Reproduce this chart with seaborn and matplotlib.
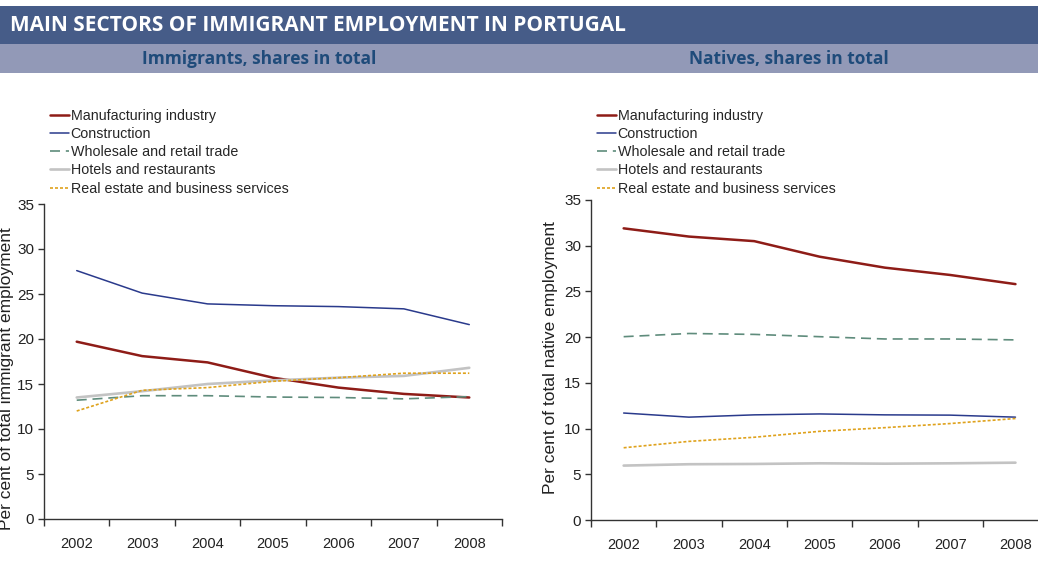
import matplotlib
matplotlib.use("Agg")
import matplotlib.pyplot as plt
from matplotlib.patches import Rectangle
from matplotlib.ticker import FixedLocator, NullFormatter
import numpy as np
import pandas as pd
import seaborn as sns

# ---- data -------------------------------------------------------------
years = ["2002", "2003", "2004", "2005", "2006", "2007", "2008"]
sectors = [
    "Manufacturing industry",
    "Construction",
    "Wholesale and retail trade",
    "Hotels and restaurants",
    "Real estate and business services",
]

immigrants_manufacturing = [19.7, 18.1, 17.4, 15.7, 14.6, 13.9, 13.5]
immigrants_construction = [27.6, 25.1, 23.9, 23.7, 23.6, 23.35, 21.6]
immigrants_wholesale = [13.2, 13.7, 13.7, 13.55, 13.5, 13.35, 13.6]
immigrants_hotels = [13.5, 14.2, 15.0, 15.4, 15.7, 15.9, 16.8]
immigrants_realestate = [12.0, 14.3, 14.6, 15.3, 15.7, 16.2, 16.2]

natives_manufacturing = [31.9, 31.0, 30.5, 28.8, 27.6, 26.8, 25.8]
natives_construction = [11.7, 11.25, 11.5, 11.6, 11.5, 11.47, 11.25]
natives_wholesale = [20.05, 20.4, 20.3, 20.05, 19.8, 19.8, 19.7]
natives_hotels = [5.95, 6.1, 6.13, 6.2, 6.16, 6.2, 6.27]
natives_realestate = [7.9, 8.6, 9.05, 9.7, 10.1, 10.55, 11.1]

title = "MAIN SECTORS OF IMMIGRANT EMPLOYMENT IN PORTUGAL"
panel_titles = ["Immigrants, shares in total", "Natives, shares in total"]
y_labels = ["Per cent of total immigrant employment",
            "Per cent of total native employment"]


def long_frame(series):
    rows = []
    for sector, values in zip(sectors, series):
        for i, (yr, v) in enumerate(zip(years, values)):
            rows.append({"pos": i, "year": yr, "sector": sector, "share": v})
    return pd.DataFrame(rows)


df_imm = long_frame([immigrants_manufacturing, immigrants_construction,
                     immigrants_wholesale, immigrants_hotels,
                     immigrants_realestate])
df_nat = long_frame([natives_manufacturing, natives_construction,
                     natives_wholesale, natives_hotels, natives_realestate])

# ---- styles -----------------------------------------------------------
styles = {
    "Manufacturing industry": dict(color="#8e1c17", lw=1.8, ls="-"),
    "Construction": dict(color="#2a3a8c", lw=1.1, ls="-"),
    "Wholesale and retail trade": dict(color="#5f8c7c", lw=1.2, ls=(0, (6, 3.5))),
    "Hotels and restaurants": dict(color="#c3c3c3", lw=1.9, ls="-"),
    "Real estate and business services": dict(color="#dfa21c", lw=1.2, ls=(0, (1.8, 1.2))),
}

sns.set_style("white")
plt.rcParams["font.family"] = ["Liberation Sans", "DejaVu Sans"]

W, H = 1038, 588
fig = plt.figure(figsize=(W / 100, H / 100), dpi=100)

# header bands
fig.patches.append(Rectangle((0, 1 - 44 / H), 1, 38 / H, transform=fig.transFigure,
                             facecolor="#465c88", edgecolor="none", zorder=0))
fig.patches.append(Rectangle((0, 1 - 73 / H), 1, 29 / H, transform=fig.transFigure,
                             facecolor="#9299b7", edgecolor="none", zorder=0))
fig.text(10 / W, 1 - 25.5 / H, title, color="white", fontsize=15,
         fontweight="bold", family=["Open Sans", "DejaVu Sans"],
         ha="left", va="center")
for cx, t in zip([259, 789], panel_titles):
    fig.text(cx / W, 1 - 59 / H, t, color="#1f4b7a", fontsize=12.5,
             fontweight="bold", family=["Open Sans", "DejaVu Sans"],
             ha="center", va="center")

panels = [
    dict(df=df_imm, rect=(44, 204, 502, 519), xmax=6.5,
         ylab=y_labels[0], ylab_x=7, ylab_y=379, leg_x=50),
    dict(df=df_nat, rect=(591, 200, 1038, 520), xmax=6.345,
         ylab=y_labels[1], ylab_x=551, ylab_y=358, leg_x=597),
]

for p in panels:
    x0, y0, x1, y1 = p["rect"]
    ax = fig.add_axes([x0 / W, 1 - y1 / H, (x1 - x0) / W, (y1 - y0) / H])
    df = p["df"]
    for sector in sectors:
        st = styles[sector]
        sub = df[df["sector"] == sector]
        sns.lineplot(data=sub, x="pos", y="share", ax=ax, color=st["color"],
                     linewidth=st["lw"], linestyle=st["ls"], label=sector,
                     legend=False)
    ax.set_xlim(-0.5, p["xmax"])
    ax.set_ylim(0, 35)
    ax.set_yticks(np.arange(0, 36, 5))
    ax.set_xticks(range(len(years)))
    ax.set_xticklabels(years)
    ax.xaxis.set_minor_locator(FixedLocator(np.arange(-0.5, 7, 1.0)))
    ax.xaxis.set_minor_formatter(NullFormatter())
    ax.tick_params(axis="x", which="major", length=0, pad=13, labelsize=10.5,
                   colors="#222222")
    ax.tick_params(axis="x", which="minor", length=5, width=1, color="#333333",
                   direction="out", bottom=True)
    ax.tick_params(axis="y", length=4, width=1, color="#333333",
                   direction="out", left=True, pad=3, labelsize=11,
                   labelcolor="#222222")
    for side in ["top", "right"]:
        ax.spines[side].set_visible(False)
    for side in ["left", "bottom"]:
        ax.spines[side].set_color("#333333")
        ax.spines[side].set_linewidth(1.0)
    ax.set_xlabel("")
    ax.set_ylabel("")
    fig.text(p["ylab_x"] / W, 1 - p["ylab_y"] / H, p["ylab"], rotation=90,
             ha="center", va="center", fontsize=12.5, color="#222222")

    handles, labels = ax.get_legend_handles_labels()
    fig.legend(handles, labels, loc="upper left",
               bbox_to_anchor=(p["leg_x"] / W, 1 - 109 / H),
               frameon=False, fontsize=10.3, handlelength=1.3,
               handletextpad=0.15, labelspacing=0.29, borderaxespad=0,
               borderpad=0)

fig.savefig("out.png", dpi=100, facecolor="white")
